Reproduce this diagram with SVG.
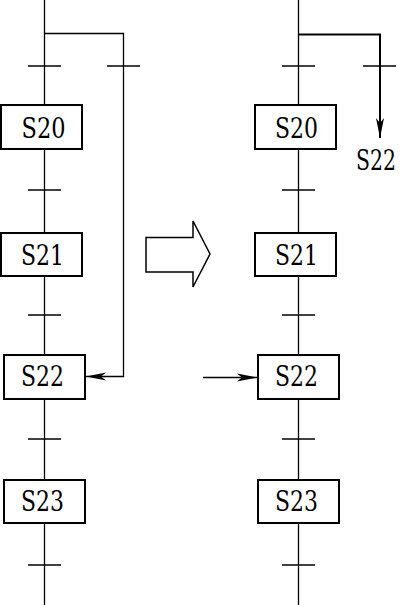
<svg xmlns="http://www.w3.org/2000/svg" width="401" height="605" viewBox="0 0 401 605">
<style>
.ln{stroke:#000;stroke-width:1.3;fill:none}
.tk{stroke:#000;stroke-width:1.6;fill:none}
.bx{stroke:#000;stroke-width:2;fill:#fff}
</style>
<defs>
<marker id="ah" viewBox="0 0 20 10" refX="20" refY="5" markerWidth="20" markerHeight="10" markerUnits="userSpaceOnUse" orient="auto">
<path d="M0,1 L20,5 L0,9 L5,5 Z" fill="#000"/>
</marker>
</defs>
<g id="connectors">
<line class="ln" x1="44.5" y1="0" x2="44.5" y2="605"/>
<polyline class="ln" points="44.5,33.5 123.5,33.5 123.5,376.5 86,376.5" marker-end="url(#ah)"/>
<line class="tk" x1="28" y1="66" x2="61" y2="66"/>
<line class="tk" x1="107" y1="66" x2="140" y2="66"/>
<line class="ln" x1="28" y1="190" x2="61" y2="190"/>
<line class="ln" x1="28" y1="315" x2="61" y2="315"/>
<line class="ln" x1="28" y1="439" x2="61" y2="439"/>
<line class="ln" x1="28" y1="565" x2="61" y2="565"/>
<line class="ln" x1="298.5" y1="0" x2="298.5" y2="605"/>
<polyline class="ln" style="stroke-width:2" points="298.5,34.5 380,34.5 380,138" marker-end="url(#ah)"/>
<line class="tk" x1="282" y1="66" x2="315" y2="66"/>
<line class="tk" x1="363" y1="66" x2="396" y2="66"/>
<line class="ln" x1="282" y1="190" x2="315" y2="190"/>
<line class="ln" x1="282" y1="315" x2="315" y2="315"/>
<line class="ln" x1="282" y1="439" x2="315" y2="439"/>
<line class="ln" x1="282" y1="565" x2="315" y2="565"/>
<line class="ln" x1="203" y1="377.5" x2="257" y2="377.5" marker-end="url(#ah)"/>
</g>
<g font-family="DejaVu Serif, Liberation Serif, serif" font-size="28" text-anchor="middle" fill="#000">
<g id="L_S20"><rect class="bx" x="1" y="105" width="81" height="44"/><text x="43.5" y="138" textLength="44" lengthAdjust="spacingAndGlyphs">S20</text></g>
<g id="L_S21"><rect class="bx" x="1" y="233" width="81" height="43"/><text x="42.5" y="265" textLength="43" lengthAdjust="spacingAndGlyphs">S21</text></g>
<g id="L_S22"><rect class="bx" x="4" y="355" width="81" height="44"/><text x="42.5" y="386" textLength="43" lengthAdjust="spacingAndGlyphs">S22</text></g>
<g id="L_S23"><rect class="bx" x="4" y="480" width="81" height="43"/><text x="42.5" y="511" textLength="43" lengthAdjust="spacingAndGlyphs">S23</text></g>
<g id="R_S20"><rect class="bx" x="255" y="105" width="81" height="44"/><text x="296.5" y="138" textLength="43" lengthAdjust="spacingAndGlyphs">S20</text></g>
<g id="R_S21"><rect class="bx" x="255" y="233" width="81" height="43"/><text x="296.5" y="265" textLength="43" lengthAdjust="spacingAndGlyphs">S21</text></g>
<g id="R_S22"><rect class="bx" x="258" y="355" width="81" height="44"/><text x="296.5" y="386" textLength="43" lengthAdjust="spacingAndGlyphs">S22</text></g>
<g id="R_S23"><rect class="bx" x="258" y="480" width="81" height="43"/><text x="296.5" y="511" textLength="43" lengthAdjust="spacingAndGlyphs">S23</text></g>
<g id="R_S22_label"><text x="376" y="170" textLength="40" lengthAdjust="spacingAndGlyphs">S22</text></g>
</g>
<g id="bigArrow"><path d="M146,237.5 L193,237.5 L193,221 L210,254 L193,287 L193,272 L146,272 Z" fill="#fff" stroke="#000" stroke-width="1.5"/></g>
</svg>
